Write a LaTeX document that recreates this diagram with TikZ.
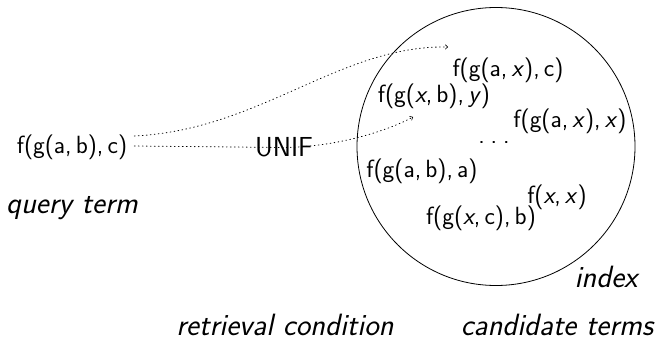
\documentclass[tikz,border=0pt]{standalone}
\usepackage{fontspec}
\usetikzlibrary{arrows.meta}
\begin{document}
\begin{tikzpicture}[x=1pt,y=-1pt,
  every node/.style={font=\fontsize{24.9}{30}\selectfont\sffamily, inner sep=0pt},
  caption/.style={font=\fontsize{30.8}{36}\selectfont\sffamily\itshape, anchor=base},
  bigword/.style={font=\fontsize{27.5}{33}\selectfont\sffamily},
  link/.style={line width=0.8pt, dash pattern=on 0.8pt off 3.2pt, line cap=round},
  linktip/.style={link, -{To[length=3pt,width=5pt,line width=0.6pt]}},
  region/.style={circle, draw, line width=0.8pt, minimum size=278pt}]
  \useasboundingbox (0,0) rectangle (656,340);

  % the index and its stored terms
  \node[region] (index) at (496,146.5) {};
  \node (t1) at (508,70)  {f(g(a,\,\textit{x}),\,c)};
  \node (t2) at (434,96)  {f(g(\textit{x},\,b),\,\textit{y})};
  \node (t3) at (570,121) {f(g(a,\,\textit{x}),\,\textit{x})};
  \node (t4) at (494,143) {.\hspace{6pt}.\hspace{6pt}.};
  \node (t5) at (422,171) {f(g(a,\,b),\,a)};
  \node (t6) at (557,197) {f(\textit{x},\,\textit{x})};
  \node (t7) at (481,218) {f(g(\textit{x},\,c),\,b)};

  % query and filter
  \node (q) at (72,147) {f(g(a,\,b),\,c)};
  \node[bigword] (unif) at (284,147.5) {UNIF};

  % captions
  \node[caption] (qcap)  at (72,213)  {query term};
  \node[caption] (icap)  at (606,287) {index};
  \node[caption] (rcap)  at (285,335.5) {retrieval condition};
  \node[caption] (ccap)  at (557,335.5) {candidate terms};

  % retrieval links
  \coordinate (hit1) at (448,47);
  \coordinate (hit2) at (413,117);
  \draw[linktip] ([shift={(7,-11)}]q.east) .. controls (260,130) and (340,45) .. (hit1);
  \draw[linktip] ([shift={(7,-1)}]q.east) -- (unif.center)
    .. controls (335,147) and (385,132) .. (hit2);
\end{tikzpicture}
\end{document}
